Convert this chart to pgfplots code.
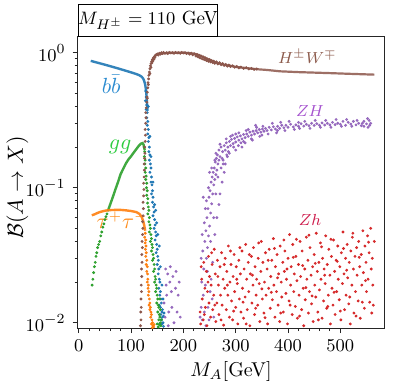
\documentclass[border=0pt]{standalone}
\usepackage{pgfplots}
\pgfplotsset{compat=1.18}
\usepackage{amssymb}

\definecolor{tabblue}{HTML}{1F77B4}
\definecolor{taborange}{HTML}{FF7F0E}
\definecolor{tabgreen}{HTML}{2CA02C}
\definecolor{tabred}{HTML}{D62728}
\definecolor{tabpurple}{HTML}{9467BD}
\definecolor{tabbrown}{HTML}{8C564B}
\definecolor{lblblue}{HTML}{2A8BD0}
\definecolor{lblgreen}{HTML}{2ECC40}
\definecolor{lblorange}{HTML}{FF8C1A}
\definecolor{lblbrown}{HTML}{8C5A4B}
\definecolor{lblpurple}{HTML}{A653CF}
\definecolor{lblred}{HTML}{CF1F4F}

\pgfplotsset{
  pts/.style={only marks, mark=*, mark size=0.5pt, color=#1,
    mark options={draw=none, fill=#1, fill opacity=0.65}},
}

\begin{document}
\begin{tikzpicture}
\useasboundingbox[fill=white] (-38.85pt,-28.5pt) rectangle (158.15pt,164pt);

\begin{axis}[
    at={(0,0)}, anchor=south west,
    scale only axis,
    width=153.3pt, height=145.5pt,
    ymode=log,
    xmin=-2, xmax=584,
    ymin=0.00914, ymax=1.307,
    xtick={0,100,200,300,400,500},
    minor x tick num=4,
    ytick={0.01,0.1,1},
    tick align=outside,
    tick pos=left,
    major tick length=2.5pt,
    minor tick length=1.5pt,
    axis line style={line width=0.5pt, black!85},
    every tick/.style={black!85, line width=0.4pt},
    ticklabel style={font=\fontsize{9.5}{10}\selectfont},
    xlabel={$M_A$[GeV]},
    ylabel={$\mathcal{B}(A\to X)$},
    xlabel style={font=\fontsize{10}{11}\selectfont, at={(axis description cs:0.5,0)},
      anchor=north, inner sep=0pt, yshift=-16.5pt},
    ylabel style={font=\fontsize{10.5}{11}\selectfont, at={(axis description cs:-0.16,0.483)},
      anchor=south, inner sep=0pt},
    clip=true,
]

% b bbar
\addplot[tabblue, line width=1.2pt, opacity=0.9] coordinates {
(23,0.87) (30,0.855) (40,0.835) (50,0.815) (60,0.795) (70,0.775) (80,0.755)
(90,0.735) (100,0.715) (110,0.695) (116,0.68) (120,0.665) (123,0.645)
(125,0.62) (127,0.58) (128.5,0.53) (129.5,0.48) (130.5,0.42) (131.5,0.37)};
\addplot[pts=tabblue] coordinates {
(128,0.52) (129,0.47) (127.5,0.44) (130,0.41) (129,0.38) (131,0.36) (130,0.33)
(132,0.31) (131,0.29) (133,0.27) (132,0.25) (134,0.235) (133,0.22) (135,0.2)
(134,0.185) (136,0.175) (135,0.16) (137,0.15) (138,0.14) (136,0.13) (139,0.12)
(138,0.11) (140,0.105) (141,0.095) (139,0.09) (142,0.085) (141,0.078) (143,0.072)
(144,0.066) (142,0.062) (145,0.058) (146,0.053) (144,0.05) (147,0.047) (148,0.044)
(146,0.041) (149,0.038) (150,0.035) (148,0.033) (151,0.031) (152,0.029) (150,0.027)
(153,0.025) (152,0.023) (154,0.021) (155,0.02) (153,0.018) (156,0.017) (155,0.016)
(157,0.015) (158,0.014) (156,0.013) (159,0.012) (157,0.0115) (160,0.011)
(158,0.0105) (161,0.01) (159,0.0098) (157,0.0096) (162,0.0094) (155,0.0099)
(160,0.0125) (154,0.0135) (162,0.0112)
(133,0.4) (136,0.24) (138,0.17) (142,0.11) (145,0.075) (149,0.055) (151,0.045)
(154,0.037) (156,0.026) (159,0.019) (161,0.015) (163,0.0118) (147,0.068)};

% g g
\addplot[tabgreen, line width=1.2pt, opacity=0.9] coordinates {
(55.5,0.067) (60,0.075) (65,0.085) (70,0.097) (75,0.11) (80,0.126) (85,0.138)
(90,0.151) (95,0.162) (100,0.171) (105,0.182) (110,0.193) (115,0.205)
(119,0.212) (122,0.214) (124,0.208) (126,0.19)};
\addplot[pts=tabgreen] coordinates {
(25.5,0.019) (27,0.021) (28.5,0.0235) (30,0.026) (31.5,0.028) (33,0.031)
(34.5,0.033) (36,0.036) (38,0.038) (40,0.040) (42,0.044) (44,0.047) (46,0.051)
(48,0.054) (50,0.058) (52,0.061) (54,0.064)
(125,0.2) (126,0.185) (125.5,0.17) (127,0.16) (126.5,0.15) (128,0.14) (127,0.13)
(129,0.122) (128,0.115) (130,0.108) (129.5,0.1) (131,0.095) (130,0.088) (132,0.083)
(131.5,0.077) (133,0.072) (134,0.068) (132,0.064) (135,0.06) (134,0.056) (136,0.053)
(137,0.05) (135,0.047) (138,0.045) (139,0.042) (137,0.04) (140,0.038) (141,0.036)
(139,0.034) (142,0.032) (143,0.03) (141,0.029) (144,0.027) (145,0.025) (143,0.024)
(146,0.022) (147,0.021) (145,0.02) (148,0.019) (149,0.018) (147,0.017) (150,0.016)
(151,0.015) (149,0.014) (152,0.0135) (153,0.013) (151,0.012) (154,0.0115)
(155,0.011) (153,0.0105) (156,0.01) (154,0.0097) (157,0.0095) (152,0.0093)
(158,0.0105) (150,0.0098) (156,0.0125) (155,0.015)};

% tau tau
\addplot[taborange, line width=1.2pt, opacity=0.9] coordinates {
(25,0.0625) (30,0.0635) (35,0.0648) (40,0.066) (45,0.0668) (50,0.0675) (55,0.068)
(60,0.0683) (70,0.0685) (80,0.0685) (90,0.068) (100,0.0672) (110,0.066)
(116,0.064) (120,0.061) (123,0.057) (125,0.053) (127,0.048)};
\addplot[pts=taborange] coordinates {
(127,0.046) (126,0.043) (128,0.041) (127,0.039) (128.5,0.037) (127.5,0.035)
(129,0.033) (128,0.031) (130,0.029) (129,0.027) (131,0.026) (130,0.024)
(131.5,0.023) (132,0.021) (131,0.02) (133,0.019) (132.5,0.018) (134,0.017)
(133,0.016) (135,0.015) (136,0.014) (134.5,0.0135) (137,0.013) (136,0.0125)
(138,0.012) (139,0.0115) (137.5,0.011) (140,0.0105) (141,0.01) (139,0.0098)
(142,0.0095) (143,0.0093) (140.5,0.0092) (144,0.0097)};

% H+- W-+
\addplot[tabbrown, line width=1.1pt, opacity=0.85] coordinates {
(150,0.975) (160,0.99) (170,0.995) (180,1.0) (190,1.0) (200,1.0) (210,0.995)
(220,0.985) (230,0.96) (240,0.92) (250,0.88) (260,0.85) (270,0.83) (280,0.81)
(290,0.8) (300,0.785) (320,0.77) (340,0.755) (360,0.745) (385,0.728)
(420,0.718) (450,0.712) (480,0.706) (520,0.697) (565,0.688)};
\addplot[pts=tabbrown] coordinates {
(118,0.0095) (119,0.0105) (118.5,0.012) (119.5,0.013) (119,0.015) (120,0.017)
(119.5,0.019) (120.5,0.022) (120,0.025) (121,0.028) (120.5,0.032) (121.5,0.036)
(121,0.04) (122,0.045) (122.5,0.05) (122,0.056) (123,0.062) (123.5,0.07)
(123,0.078) (124,0.087) (124.5,0.097) (124,0.108) (125,0.12) (125.5,0.135)
(125,0.15) (126,0.165) (126.5,0.18) (126,0.2) (127,0.22) (127.5,0.245) (127,0.27)
(128,0.3) (128.5,0.33) (128,0.36) (129,0.39) (130,0.43) (130.5,0.47) (131,0.51)
(132,0.55) (132.5,0.6) (133.5,0.64) (134,0.68) (135,0.72) (136,0.76) (137,0.8)
(138,0.83) (139.5,0.86) (141,0.89) (143,0.92) (145,0.94) (147,0.96) (149,0.97)
(151,0.98) (136,0.7) (138,0.78) (140,0.84) (133,0.58) (131,0.46) (142,0.87)
(144,0.9) (146,0.93)
(152,0.96) (154,0.99) (156,0.975) (158,1.0) (160,0.985) (162,1.005) (165,0.99)
(168,1.0) (170,0.985) (173,1.005) (176,0.995) (179,1.0) (182,0.99) (185,1.005)
(188,0.995) (191,1.0) (194,0.99) (197,1.005) (200,0.995) (203,1.0) (206,0.985)
(209,0.995) (212,0.975) (215,0.99) (218,0.965) (221,0.98) (224,0.945) (226,0.97)
(228,0.93) (230,0.955) (232,0.915) (234,0.945) (236,0.9) (238,0.93) (240,0.89)
(242,0.915) (244,0.875) (246,0.9) (248,0.865) (250,0.89) (252,0.855) (254,0.875)
(256,0.845) (258,0.865) (260,0.835) (263,0.855) (266,0.825) (269,0.845)
(272,0.815) (275,0.83) (278,0.805) (281,0.82) (284,0.795) (287,0.81) (290,0.79)
(294,0.8) (298,0.78) (302,0.79) (306,0.772) (310,0.782) (315,0.765) (320,0.775)
(325,0.758) (330,0.765) (335,0.752) (340,0.758)};

% Z H
\addplot[pts=tabpurple] coordinates {
(163,0.014) (165,0.011) (167,0.019) (168,0.016) (170,0.023) (172,0.012)
(174,0.02) (175,0.026) (177,0.017) (178,0.013) (180,0.022) (182,0.01)
(185,0.018) (186,0.024) (188,0.012) (190,0.016) (192,0.02) (194,0.011)
(166,0.025) (171,0.0095)
(232,0.011) (234,0.013) (236,0.0105) (238,0.016) (240,0.012) (235,0.02)
(239,0.025) (242,0.019) (244,0.03) (237,0.034) (241,0.04) (246,0.036)
(243,0.048) (248,0.044) (240,0.055) (245,0.06) (250,0.052) (247,0.07)
(252,0.065) (244,0.08) (249,0.085) (254,0.076) (251,0.095) (256,0.09)
(248,0.1) (253,0.11) (258,0.105) (255,0.12) (260,0.115) (257,0.13) (262,0.125)
(259,0.14) (264,0.135) (250,0.13) (261,0.155) (266,0.15) (263,0.165)
(268,0.16) (256,0.028) (260,0.045) (264,0.06) (270,0.09) (268,0.075)
(274,0.11) (278,0.13) (272,0.14) (276,0.16) (280,0.15) (284,0.17)
(247,0.013) (251,0.017) (255,0.015) (243,0.0095)
(236,0.045) (242,0.07) (246,0.024) (252,0.04) (254,0.14) (258,0.06) (262,0.09)
(266,0.12) (238,0.085) (234,0.03) (253,0.021) (249,0.0105) (258,0.011)
(265,0.175) (268,0.19) (270,0.17) (272,0.2) (275,0.185) (278,0.205) (280,0.19)
(282,0.215) (285,0.2) (288,0.22) (290,0.205) (292,0.228) (295,0.212)
(298,0.232) (300,0.218) (303,0.238) (306,0.225) (309,0.242) (312,0.23)
(315,0.248) (318,0.235) (321,0.25) (324,0.24) (327,0.258) (330,0.245)
(333,0.262) (336,0.25) (339,0.265) (342,0.255) (345,0.27) (348,0.258)
(351,0.272) (354,0.262) (357,0.275) (360,0.265) (364,0.28) (368,0.268)
(372,0.283) (376,0.272) (380,0.285) (384,0.275) (388,0.29) (392,0.278)
(396,0.29) (400,0.28) (405,0.295) (410,0.282) (415,0.292) (420,0.285)
(425,0.298) (430,0.286) (435,0.295) (440,0.288) (445,0.3) (450,0.289)
(455,0.298) (460,0.29) (465,0.302) (470,0.291) (475,0.3) (480,0.292)
(485,0.305) (490,0.293) (495,0.3) (500,0.295) (505,0.31) (510,0.29)
(515,0.305) (520,0.296) (525,0.31) (530,0.292) (535,0.3) (540,0.288)
(545,0.31) (550,0.297) (555,0.315) (558,0.3) (553,0.28) (545,0.285)
(260,0.16) (262,0.18) (274,0.165) (286,0.185) (296,0.2) (310,0.215) (290,0.24)
(300,0.25) (320,0.265) (340,0.28) (420,0.305) (380,0.265) (350,0.245)
(330,0.23) (315,0.22) (305,0.205) (283,0.175)
(270,0.21) (276,0.15) (282,0.23) (288,0.18) (294,0.245) (300,0.19) (306,0.255)
(312,0.2) (318,0.215) (324,0.27) (332,0.225) (338,0.29) (346,0.24) (352,0.285)
(362,0.25) (370,0.3) (378,0.255) (386,0.305) (394,0.265) (402,0.31) (412,0.27)
(422,0.275) (432,0.31) (442,0.275) (452,0.315) (462,0.28) (472,0.315)
(482,0.28) (492,0.32) (502,0.285) (512,0.32) (522,0.285) (532,0.315) (542,0.3)
(552,0.325) (556,0.29)};

% Z h
\addplot[pts=tabred] coordinates {
(232,0.012) (233,0.0098) (235,0.021) (236,0.015) (238,0.0105) (239,0.028)
(241,0.018) (242,0.013) (244,0.024) (245,0.0095) (246,0.017) (248,0.031)
(249,0.014) (250,0.022) (252,0.011) (253,0.019) (255,0.027) (256,0.0125)
(258,0.016) (259,0.035) (261,0.023) (262,0.0102) (264,0.014) (265,0.029)
(267,0.019) (268,0.0115) (270,0.026) (271,0.016) (273,0.033) (274,0.0135)
(276,0.021) (277,0.0096) (279,0.018) (280,0.03) (282,0.0125) (283,0.024)
(285,0.016) (286,0.037) (288,0.011) (289,0.02) (291,0.027) (292,0.0145)
(294,0.0105) (295,0.022) (297,0.032) (298,0.017) (300,0.013) (301,0.026)
(303,0.0195) (304,0.0098) (306,0.029) (307,0.015) (309,0.023) (310,0.012)
(312,0.034) (313,0.018) (315,0.0108) (316,0.025) (318,0.0155) (319,0.038)
(321,0.021) (322,0.0125) (324,0.028) (325,0.017) (327,0.0095) (328,0.023)
(330,0.031) (331,0.014) (333,0.019) (334,0.036) (336,0.0115) (337,0.026)
(339,0.016) (340,0.021) (342,0.0135) (343,0.03) (345,0.0195) (346,0.0102)
(348,0.024) (349,0.04) (351,0.015) (352,0.028) (354,0.0118) (355,0.02)
(357,0.033) (358,0.016) (360,0.025) (361,0.0098) (363,0.018) (364,0.035)
(366,0.0128) (367,0.022) (369,0.029) (370,0.0148) (372,0.042) (373,0.019)
(375,0.011) (376,0.026) (378,0.017) (379,0.032) (381,0.0135) (382,0.023)
(384,0.0102) (385,0.037) (387,0.02) (388,0.0155) (390,0.028) (391,0.012)
(393,0.024) (394,0.034) (396,0.0165) (397,0.021) (399,0.0098) (400,0.03)
(402,0.0145) (403,0.045) (405,0.019) (406,0.026) (408,0.0115) (409,0.038)
(411,0.017) (412,0.023) (414,0.0132) (415,0.031) (417,0.0205) (418,0.0108)
(420,0.027) (421,0.016) (423,0.04) (424,0.022) (426,0.0125) (427,0.034)
(429,0.018) (430,0.0095) (432,0.025) (433,0.0148) (435,0.043) (436,0.021)
(438,0.029) (439,0.0118) (441,0.017) (442,0.036) (444,0.0225) (445,0.0138)
(447,0.026) (448,0.0102) (450,0.032) (451,0.019) (453,0.0155) (454,0.046)
(456,0.024) (457,0.012) (459,0.028) (460,0.0175) (462,0.039) (463,0.021)
(465,0.0108) (466,0.03) (468,0.0145) (469,0.025) (471,0.0195) (472,0.044)
(474,0.0128) (475,0.027) (477,0.016) (478,0.035) (480,0.0225) (481,0.0098)
(483,0.031) (484,0.018) (486,0.0135) (487,0.041) (489,0.024) (490,0.0115)
(492,0.029) (493,0.017) (495,0.037) (496,0.021) (498,0.0148) (499,0.026)
(501,0.0105) (502,0.033) (504,0.0195) (505,0.047) (507,0.023) (508,0.0125)
(510,0.03) (511,0.016) (513,0.038) (514,0.0215) (516,0.0138) (517,0.028)
(519,0.0098) (520,0.034) (522,0.019) (523,0.043) (525,0.025) (526,0.0118)
(528,0.031) (529,0.017) (531,0.036) (532,0.0225) (534,0.0145) (535,0.04)
(537,0.026) (538,0.0108) (540,0.032) (541,0.019) (543,0.048) (544,0.0235)
(546,0.0128) (547,0.037) (549,0.028) (550,0.017) (552,0.044) (553,0.021)
(555,0.033) (556,0.0142) (558,0.05) (559,0.025) (561,0.03) (562,0.019)
(234,0.026) (240,0.0115) (247,0.02) (254,0.033) (260,0.0135) (266,0.022)
(272,0.0105) (278,0.027) (284,0.019) (290,0.034) (296,0.0122) (302,0.021)
(308,0.036) (314,0.0142) (320,0.0098) (326,0.032) (332,0.0225) (338,0.0128)
(344,0.039) (350,0.0178) (356,0.0109) (362,0.029) (368,0.0168) (374,0.0355)
(380,0.0215) (386,0.0118) (392,0.041) (398,0.025) (404,0.0135) (410,0.0305)
(416,0.0415) (422,0.0112) (428,0.0265) (434,0.0182) (440,0.0445) (446,0.0158)
(452,0.0275) (458,0.0105) (464,0.0365) (470,0.0225) (476,0.0132) (482,0.0415)
(488,0.0168) (494,0.0285) (500,0.0122) (506,0.0355) (512,0.0245) (518,0.0155)
(524,0.046) (530,0.0112) (536,0.0305) (542,0.0142) (548,0.0205) (554,0.0395)
(560,0.0118) (565,0.04) (563,0.0135)};

% channel labels
\node[text=lblblue, font=\fontsize{10.5}{11}\selectfont] at (axis cs:62,0.58) {$b\bar{b}$};
\node[text=lblgreen, font=\fontsize{10.5}{11}\selectfont] at (axis cs:79,0.2) {$gg$};
\node[text=lblorange, font=\fontsize{10.5}{11}\selectfont] at (axis cs:83,0.0575) {$\tau^+\tau^-$};
\node[text=lblbrown, font=\fontsize{8.5}{9}\selectfont] at (axis cs:437,0.93) {$H^\pm W^\mp$};
\node[text=lblpurple, font=\fontsize{8.5}{9}\selectfont] at (axis cs:442,0.37) {$ZH$};
\node[text=lblred, font=\fontsize{8.5}{9}\selectfont] at (axis cs:442,0.0575) {$Zh$};

\end{axis}

\node[draw, line width=0.5pt, anchor=south west, minimum width=68.9pt,
  minimum height=16pt, inner sep=0pt, font=\fontsize{9.5}{10}\selectfont]
  at (0,145.5pt) {$M_{H^\pm} = 110$ GeV};
\end{tikzpicture}
\end{document}
